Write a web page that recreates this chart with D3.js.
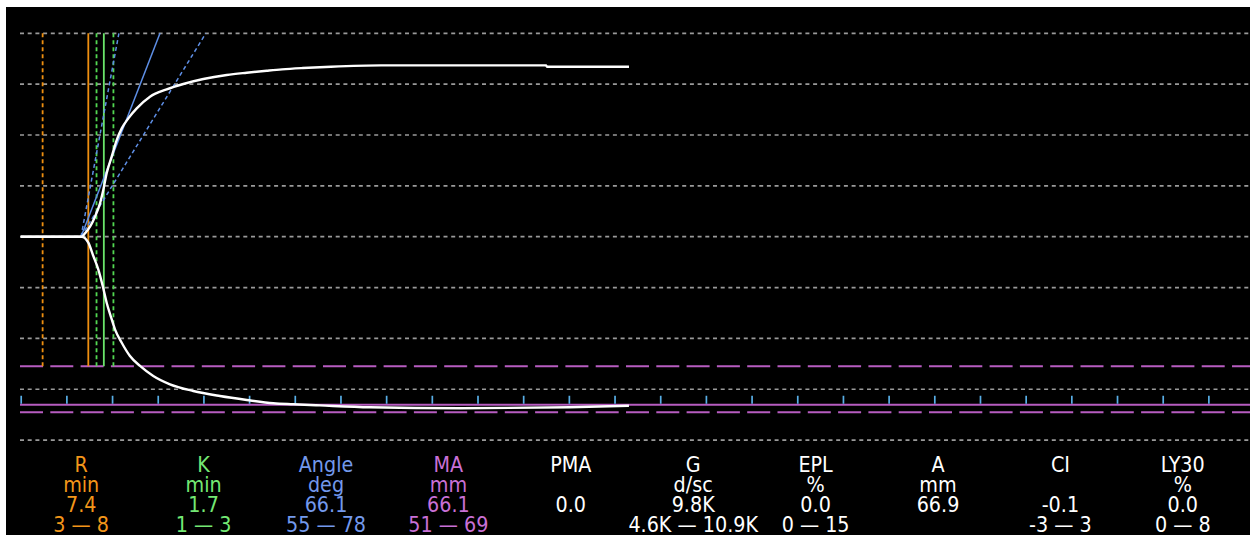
<!DOCTYPE html>
<html>
<head>
<meta charset="utf-8">
<script src="https://cdn.jsdelivr.net/npm/d3@7"></script>
<style>
  html, body { margin: 0; padding: 0; background: #fff; }
  svg { display: block; }
  .lbl { font-family: "DejaVu Sans Condensed", "DejaVu Sans", sans-serif; font-stretch: condensed; font-size: 21.3px; text-anchor: middle; }
</style>
</head>
<body>
<svg id="chart" width="1251" height="535"></svg>
<script>
// TEG trace: time (min) vs half-amplitude (mm), upper and lower arms
const upperArm = [
  [0,0],[6.68,0],[7.04,0.67],[7.59,1.97],[8.13,3.93],[8.68,6.56],[9.04,9.18],[9.41,12.46],
  [9.96,15.73],[10.51,19.01],[11.06,21.3],[11.78,23.27],[12.70,25.23],[14.15,27.53],
  [15.98,28.98],[17.80,30.03],[19.99,31.01],[22.55,31.8],[24.74,32.25],[26.93,32.64],
  [28.60,32.91],[30.90,33.17],[33.96,33.43],[39.44,33.69],[57.5,33.69],[57.6,33.43],[66.58,33.43]
];
const lowerArm = [
  [0,0],[6.68,0],[7.40,1.18],[7.95,3.80],[8.49,6.41],[8.98,9.70],[9.41,12.98],[9.85,15.60],
  [10.32,18.21],[11.06,20.85],[11.96,23.46],[13.06,25.42],[14.51,27.39],[16.34,29.03],
  [18.89,30.34],[21.81,31.33],[24.74,32.11],[27.65,32.76],[29.84,32.96],[32.76,33.18],
  [38.23,33.55],[48.1,33.75],[60.1,33.55],[66.58,33.23]
];

// Parameter table
const paramNames  = ["R", "K", "Angle", "MA", "PMA", "G", "EPL", "A", "CI", "LY30"];
const paramUnits  = ["min", "min", "deg", "mm", "", "d/sc", "%", "mm", "", "%"];
const paramValues = ["7.4", "1.7", "66.1", "66.1", "0.0", "9.8K", "0.0", "66.9", "-0.1", "0.0"];
const paramRanges = ["3 — 8", "1 — 3", "55 — 78", "51 — 69", "", "4.6K — 10.9K", "0 — 15", "", "-3 — 3", "0 — 8"];

// Values used for the marker lines
const rTime = 7.4;          // R (min)
const kTime = 1.7;          // K (min)
const kBand = [8.3, 10.15]; // K window markers (min)
const startMarker = 2.4;    // early reference marker (min)
const splitTime = 6.6;      // where the arms separate (min)
const angleValue = 66.1;
const angleRange = [55, 78];
const maValue = 66.1;
const maRange = [51, 69];

const timeTicks = d3.range(0, 131, 5);
const gridLevels = d3.range(-40, 41, 10);

const C = {
  orange: "#ee8f10", green: "#6ae46a", greenDash: "#52d852", blue: "#5e8fe6",
  magenta: "#b75cc0", tick: "#58aee6", grid: "#9a9a9a",
  tOrange: "#f3961a", tGreen: "#74e874", tBlue: "#7399ec", tMagenta: "#c970d6"
};
const textColor = {R: C.tOrange, K: C.tGreen, Angle: C.tBlue, MA: C.tMagenta};

const svg = d3.select("#chart");
svg.append("rect").attr("x", 6).attr("y", 7).attr("width", 1244).attr("height", 528).attr("fill", "#000");

const x = d3.scaleLinear().domain([0, 135]).range([20.7, 20.7 + 27 * 45.68]);
const y = d3.scaleLinear().domain([-40, 40]).range([440.1, 33.3]);
const xRight = 1250;

// horizontal grid
svg.append("g").selectAll("line").data(gridLevels).join("line")
  .attr("x1", 20).attr("x2", xRight)
  .attr("y1", d => y(d)).attr("y2", d => y(d))
  .attr("stroke", C.grid).attr("stroke-width", 1.7).attr("stroke-dasharray", "4 3.7");

// MA range and value (lower side)
svg.append("g").selectAll("line").data(maRange).join("line")
  .attr("x1", 20).attr("x2", xRight)
  .attr("y1", d => y(-d / 2)).attr("y2", d => y(-d / 2))
  .attr("stroke", C.magenta).attr("stroke-width", 2).attr("stroke-dasharray", "23 7.3");
svg.append("line")
  .attr("x1", 20).attr("x2", xRight)
  .attr("y1", y(-maValue / 2)).attr("y2", y(-maValue / 2))
  .attr("stroke", C.magenta).attr("stroke-width", 2);

// time ticks
const tickAxis = d3.axisTop(x).tickValues(timeTicks).tickSize(8).tickFormat("");
const ga = svg.append("g").attr("transform", `translate(0,${y(-maValue / 2) - 1})`).call(tickAxis);
ga.select(".domain").remove();
ga.selectAll(".tick line").attr("stroke", C.tick).attr("stroke-width", 1.7);

// vertical marker lines
const vTop = y(40), vBottom = y(-maRange[0] / 2);
const vLines = [
  {t: startMarker, color: C.orange, dash: "4 3"},
  {t: rTime, color: C.orange, dash: null},
  {t: kBand[0], color: C.greenDash, dash: "4 3"},
  {t: rTime + kTime, color: C.green, dash: null},
  {t: kBand[1], color: C.greenDash, dash: "4 3"}
];
svg.append("g").selectAll("line").data(vLines).join("line")
  .attr("x1", d => x(d.t)).attr("x2", d => x(d.t))
  .attr("y1", vTop).attr("y2", vBottom)
  .attr("stroke", d => d.color).attr("stroke-width", 1.8)
  .attr("stroke-dasharray", d => d.dash);

// angle lines from the split point up to the top grid level
const slopePerDeg = deg => 2.05 * Math.tan(deg * Math.PI / 180); // mm per min
const angleLines = [
  {deg: angleRange[1], dash: "4 3"},
  {deg: angleValue, dash: null},
  {deg: angleRange[0], dash: "4 3"}
];
svg.append("g").selectAll("line").data(angleLines).join("line")
  .attr("x1", x(splitTime)).attr("y1", y(0))
  .attr("x2", d => x(splitTime + 40 / slopePerDeg(d.deg))).attr("y2", y(40))
  .attr("stroke", C.blue).attr("stroke-width", 1.5)
  .attr("stroke-dasharray", d => d.dash);

// trace
const lineUp = d3.line().x(d => x(d[0])).y(d => y(d[1])).curve(d3.curveMonotoneX);
const lineDn = d3.line().x(d => x(d[0])).y(d => y(-d[1])).curve(d3.curveMonotoneX);
svg.append("path").datum(upperArm).attr("d", lineUp)
  .attr("fill", "none").attr("stroke", "#fff").attr("stroke-width", 2.4);
svg.append("path").datum(lowerArm).attr("d", lineDn)
  .attr("fill", "none").attr("stroke", "#fff").attr("stroke-width", 2.4);

// parameter table
const col = d3.scaleBand().domain(paramNames).range([20, 1244]);
const rows = [paramNames, paramUnits, paramValues, paramRanges];
const baselines = [472, 491.5, 511.5, 532];
rows.forEach((row, ri) => {
  svg.append("g").selectAll("text").data(row).join("text")
    .attr("class", "lbl")
    .attr("x", (d, i) => col(paramNames[i]) + col.bandwidth() / 2)
    .attr("y", baselines[ri])
    .attr("fill", (d, i) => textColor[paramNames[i]] || "#fff")
    .text(d => d);
});
</script>
</body>
</html>
